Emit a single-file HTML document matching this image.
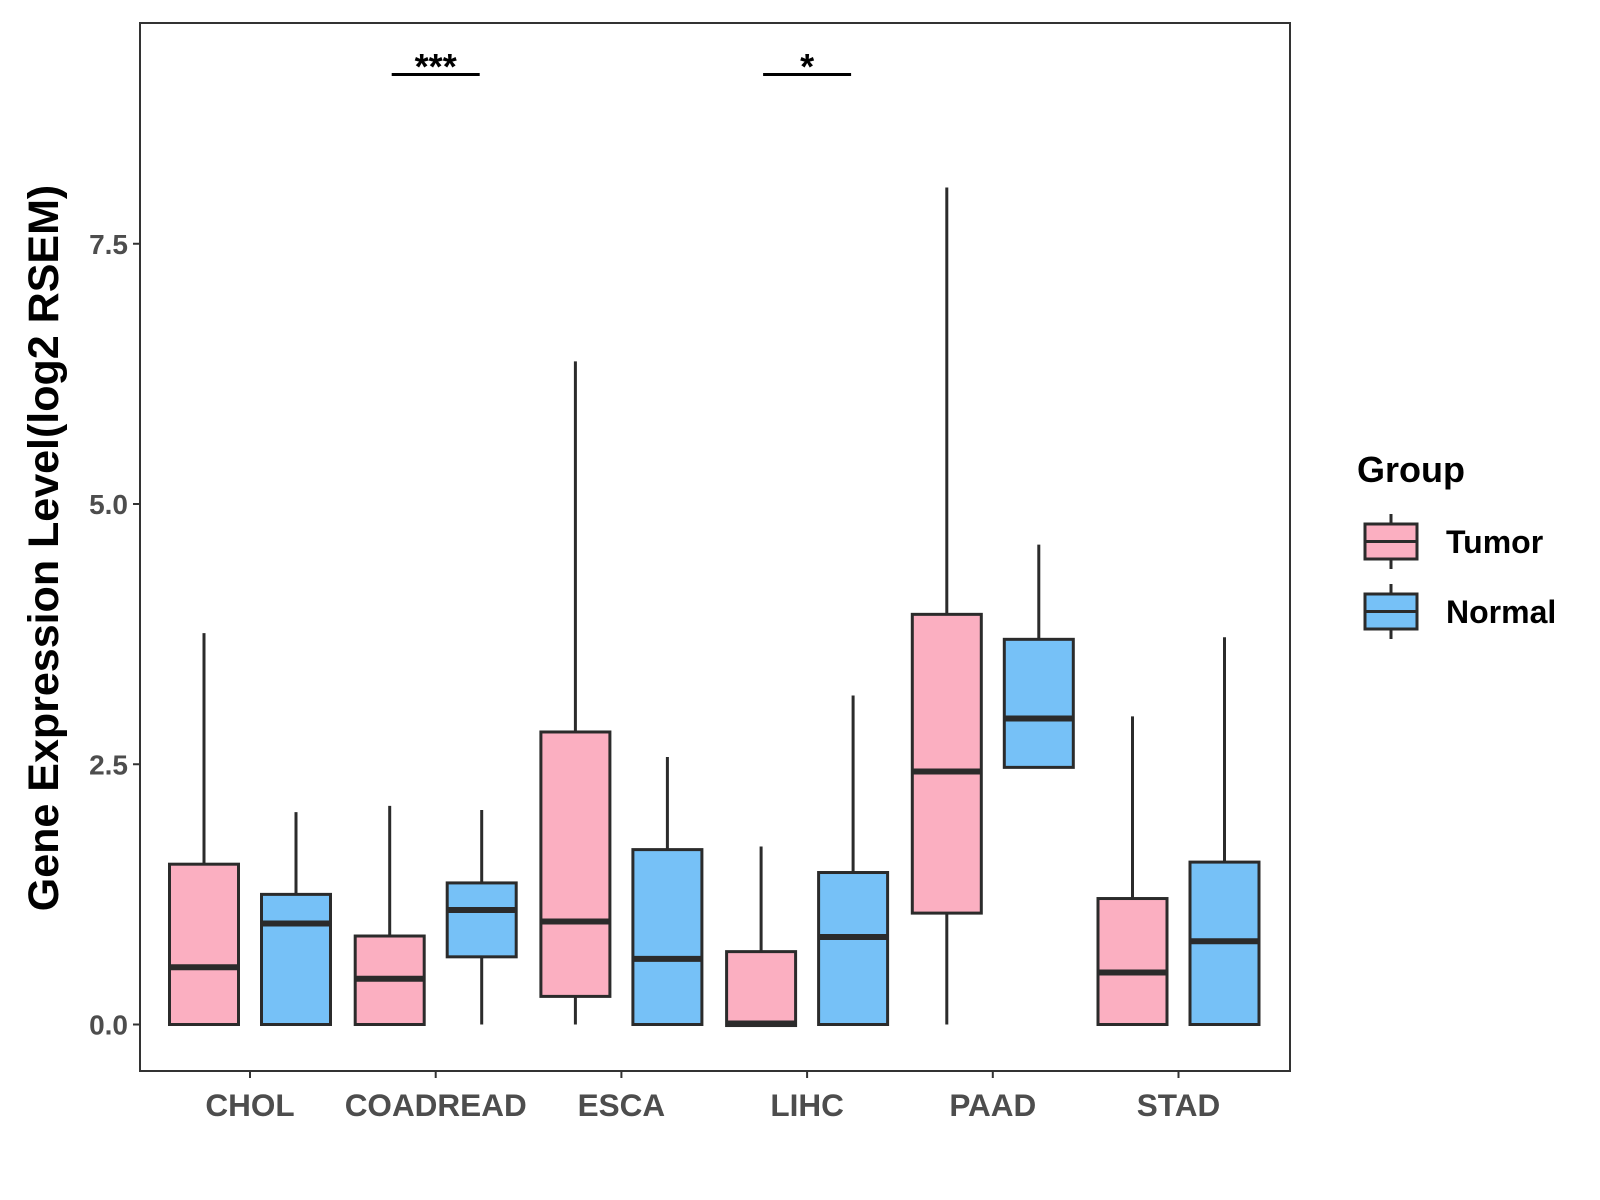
<!DOCTYPE html>
<html><head><meta charset="utf-8">
<style>body{margin:0;background:#fff}svg{display:block;font-family:"Liberation Sans",Arial,sans-serif}</style>
</head><body>
<svg id="chart" width="1600" height="1200" xmlns="http://www.w3.org/2000/svg">
<rect x="0" y="0" width="1600" height="1200" fill="#fff"/>
<rect x="140" y="23" width="1150" height="1048" fill="none" stroke="#333" stroke-width="2"/>
<g id="marks"></g>
<text x="58" y="548" transform="rotate(-90 58 548)" text-anchor="middle" font-size="43" font-weight="bold" fill="#000">Gene Expression Level(log2 RSEM)</text>
<text x="1357" y="482" font-size="36" font-weight="bold" fill="#000">Group</text>
</svg>
<script>
const categories = ["CHOL","COADREAD","ESCA","LIHC","PAAD","STAD"];
const groups = ["Tumor","Normal"];
const tumorMin = [0,0,0,-0.01,0,0];
const tumorQ1 = [0,0,0.27,-0.01,1.07,0];
const tumorMed = [0.55,0.44,0.99,0.01,2.43,0.5];
const tumorQ3 = [1.54,0.85,2.81,0.7,3.94,1.21];
const tumorMax = [3.76,2.1,6.37,1.71,8.04,2.96];
const normalMin = [0,0,0,0,2.47,0];
const normalQ1 = [0,0.65,0,0,2.47,0];
const normalMed = [0.97,1.1,0.63,0.84,2.94,0.8];
const normalQ3 = [1.25,1.36,1.68,1.46,3.7,1.56];
const normalMax = [2.04,2.06,2.57,3.16,4.61,3.72];
const yTicks = [0,2.5,5,7.5];
const yTickLabels = ["0.0","2.5","5.0","7.5"];
const sigCategories = ["COADREAD","LIHC"];
const sigLabels = ["***","*"];
const colors = ["#fbafc1","#76c1f7"];

const NS="http://www.w3.org/2000/svg";
const svg=document.getElementById('chart');
const g=document.getElementById('marks');
function y(v){return 1024.5-v*104.1;}
function x(i){return 250+i*185.7;}
function mk(tag,attrs,parent){const e=document.createElementNS(NS,tag);for(const k in attrs)e.setAttribute(k,attrs[k]);(parent||g).appendChild(e);return e;}

yTicks.forEach((t,i)=>{
  const tk=mk('line',{x1:133,x2:140,y1:y(t),y2:y(t),stroke:'#333','stroke-width':2});
  
  
  const lb=mk('text',{x:128,y:y(t)+10,'text-anchor':'end','font-size':28,'font-weight':'bold',fill:'#4d4d4d'});
  lb.textContent=yTickLabels[i];
  
  
});
categories.forEach((c,i)=>{
  const tk=mk('line',{x1:x(i),x2:x(i),y1:1071,y2:1078,stroke:'#333','stroke-width':2});
  
  
  const lb=mk('text',{x:x(i),y:1116,'text-anchor':'middle','font-size':31.5,'font-weight':'bold',fill:'#4d4d4d'});
  lb.textContent=c;
  
  
});
const series=[[tumorMin,tumorQ1,tumorMed,tumorQ3,tumorMax],[normalMin,normalQ1,normalMed,normalQ3,normalMax]];
categories.forEach((c,i)=>{
  series.forEach((s,gi)=>{
    const cx=x(i)+(gi===0?-46:46), w=69;
    const grp=mk('g',{});
    
    
    mk('line',{x1:cx,x2:cx,y1:y(s[4][i]),y2:y(s[3][i]),stroke:'#2b2b2b','stroke-width':3},grp);
    mk('line',{x1:cx,x2:cx,y1:y(s[1][i]),y2:y(s[0][i]),stroke:'#2b2b2b','stroke-width':3},grp);
    mk('rect',{x:cx-w/2,y:y(s[3][i]),width:w,height:Math.max(1,y(s[1][i])-y(s[3][i])),fill:colors[gi],stroke:'#2b2b2b','stroke-width':3},grp);
    mk('line',{x1:cx-w/2,x2:cx+w/2,y1:y(s[2][i]),y2:y(s[2][i]),stroke:'#2b2b2b','stroke-width':6},grp);
  });
});
sigCategories.forEach((c,k)=>{
  const i=categories.indexOf(c);
  const ln=mk('line',{x1:x(i)-44,x2:x(i)+44,y1:74.5,y2:74.5,stroke:'#000','stroke-width':3});
  
  
  const t=mk('text',{x:x(i),y:79,'text-anchor':'middle','font-size':36,'font-weight':'bold',fill:'#000'});
  t.textContent=sigLabels[k];
  
  
});
groups.forEach((gname,gi)=>{
  const top=gi===0?524:594;
  const grp=mk('g',{},svg);
  
  
  mk('line',{x1:1391,x2:1391,y1:top-10,y2:top+45,stroke:'#2b2b2b','stroke-width':3},grp);
  mk('rect',{x:1365,y:top,width:52,height:35,fill:colors[gi],stroke:'#2b2b2b','stroke-width':3},grp);
  mk('line',{x1:1365,x2:1417,y1:top+17.5,y2:top+17.5,stroke:'#2b2b2b','stroke-width':3},grp);
  const t=mk('text',{x:1446,y:top+29,'font-size':32,'font-weight':'bold',fill:'#000'},grp);
  t.textContent=gname;
});
</script>
</body></html>
